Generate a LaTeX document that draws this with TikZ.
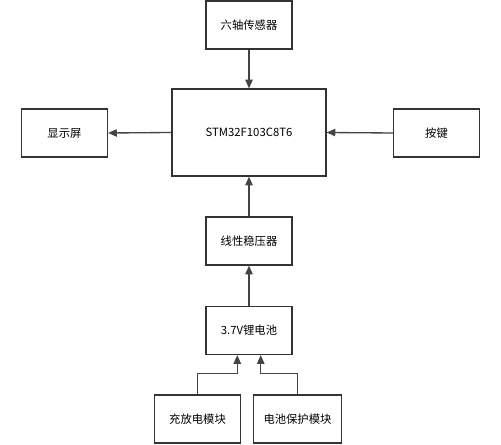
\documentclass[tikz,border=0pt]{standalone}
\usepackage{fontspec}
\setmainfont{Noto Sans CJK SC}
\usepackage{xcolor}
\definecolor{boxline}{RGB}{51,51,51}
\definecolor{wireline}{RGB}{68,68,68}
\usetikzlibrary{arrows.meta,positioning}

\begin{document}
\begin{tikzpicture}[x=0.75pt, y=-0.75pt,
  blk/.style={draw=boxline, line width=0.9pt, fill=white, minimum width=64.5pt, minimum height=36pt, font=\fontsize{8.5}{10}\selectfont, inner sep=0pt},
  wire/.style={draw=wireline, line width=1pt, -{Triangle[length=6.5pt, width=5.5pt]}}]
  \useasboundingbox (0,0) rectangle (501,445);

  %--- Controller and its peripherals ---
  \node[blk, minimum width=115.5pt, minimum height=65.25pt] (mcu) at (249,132.5) {STM32F103C8T6};
  \node[blk] (imu) at (249,25) {六轴传感器};
  \node[blk] (lcd) at (64.5,133) {显示屏};
  \node[blk] (key) at (436.5,133) {按键};

  \draw[wire] (imu.south) -- (mcu.north);
  \draw[wire] (mcu.west) -- (lcd.east);
  \draw[wire] (key.west) -- (mcu.east);

  %--- Power path ---
  \node[blk] (ldo) at (249,241) {线性稳压器};
  \node[blk] (bat) at (249,330.5) {3.7V锂电池};
  \node[blk, minimum width=64pt] (chg) at (197.5,419) {充放电模块};
  \node[blk, minimum width=66.5pt] (prot) at (297.5,419) {电池保护模块};

  \draw[wire] (ldo.north) -- (mcu.south);
  \draw[wire] (bat.north) -- (ldo.south);
  \draw[wire] (chg.north) -- ++(0,-21) -| ([xshift=-8.8pt]bat.south);
  \draw[wire] (prot.north) -- ++(0,-21) -| ([xshift=8.8pt]bat.south);
\end{tikzpicture}
\end{document}
